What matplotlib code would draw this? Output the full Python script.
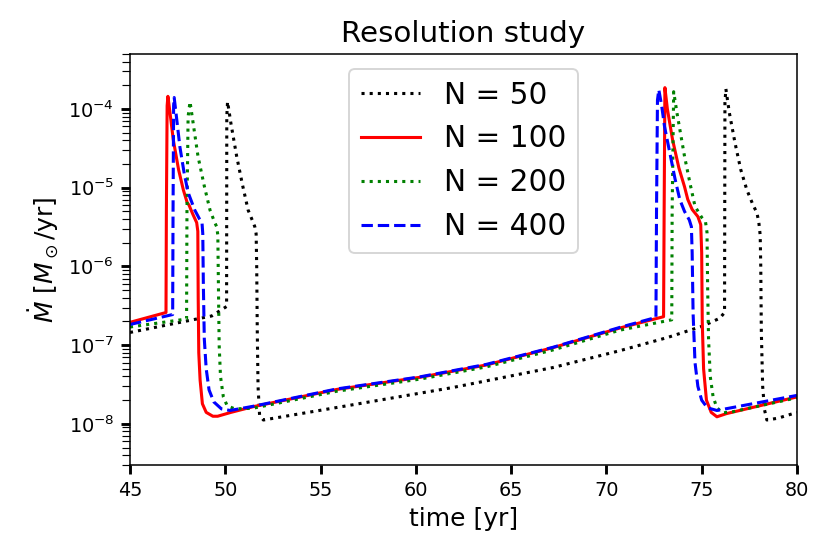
import numpy as np
import matplotlib
matplotlib.use('Agg')
import matplotlib.pyplot as plt

# accretion rate (Msun/yr)
t_50 = [45.0, 49.29, 50.07, 50.08, 50.12, 50.3, 50.6, 50.9, 51.2, 51.45, 51.55,
        51.62, 51.65, 51.68, 51.72, 51.8, 52.0, 56.7, 61.95, 67.2, 70.7, 73.2,
        75.06, 75.95, 76.2, 76.22, 76.27, 76.45, 76.75, 77.05, 77.37, 77.7, 77.9,
        78.0, 78.07, 78.1, 78.13, 78.2, 78.3, 78.42, 79.0, 80.0]
mdot_50 = [1.45e-7, 2.35e-7, 3.1e-7, 8e-5, 1.24e-4, 6.5e-5, 2.5e-5, 1.1e-5, 5.2e-6,
           3.7e-6, 3.2e-6, 2.6e-6, 1.0e-6, 1.5e-7, 3e-8, 1.3e-8, 1.12e-8, 1.75e-8,
           2.9e-8, 5.2e-8, 8.5e-8, 1.25e-7, 1.75e-7, 2.2e-7, 2.6e-7, 1.2e-4,
           1.8e-4, 9e-5, 3.7e-5, 1.7e-5, 9.4e-6, 6e-6, 4.8e-6, 3.6e-6, 2.5e-6,
           1e-6, 1.5e-7, 3e-8, 1.5e-8, 1.12e-8, 1.18e-8, 1.4e-8]

t_100 = [45.0, 46.89, 46.91, 46.95, 46.99, 47.1, 47.27, 47.55, 47.8, 48.0, 48.1,
         48.3, 48.5, 48.56, 48.58, 48.61, 48.68, 48.8, 49.0, 49.35, 49.6, 50.3,
         51.45, 55.86, 60.2, 63.7, 67.2, 70.7, 73.0, 73.03, 73.07, 73.2, 73.47,
         73.8, 74.1, 74.27, 74.5, 74.8, 74.95, 75.0, 75.03, 75.1, 75.25, 75.5,
         75.8, 76.3, 80.0]
mdot_100 = [1.95e-7, 2.6e-7, 5e-6, 1.1e-4, 1.45e-4, 9e-5, 4.1e-5, 1.7e-5, 9.4e-6,
            6.5e-6, 6.0e-6, 4.6e-6, 3.6e-6, 2.8e-6, 4e-7, 8e-8, 3.6e-8, 1.8e-8,
            1.4e-8, 1.25e-8, 1.25e-8, 1.4e-8, 1.65e-8, 2.74e-8, 3.9e-8, 5.6e-8,
            9.3e-8, 1.65e-7, 2.3e-7, 5e-6, 1.87e-4, 1.0e-4, 4.1e-5, 1.8e-5,
            1.03e-5, 7.1e-6, 5.3e-6, 4.3e-6, 3.4e-6, 1.5e-6, 2e-7, 5e-8, 2e-8,
            1.4e-8, 1.23e-8, 1.35e-8, 2.2e-8]

t_200 = [45.0, 47.97, 47.99, 48.05, 48.15, 48.3, 48.57, 48.9, 49.2, 49.45, 49.55,
         49.61, 49.64, 49.68, 49.75, 49.9, 50.1, 50.5, 51.45, 55.86, 60.2, 63.7,
         67.2, 70.7, 73.43, 73.45, 73.53, 73.7, 74.1, 74.4, 74.65, 75.0, 75.2,
         75.28, 75.31, 75.36, 75.45, 75.6, 75.8, 76.1, 76.6, 80.0]
mdot_200 = [1.7e-7, 2.15e-7, 5e-6, 8e-5, 1.24e-4, 7e-5, 2.5e-5, 1.05e-5, 5.2e-6,
            3.6e-6, 3.2e-6, 2.5e-6, 6e-7, 1e-7, 4e-8, 2.2e-8, 1.7e-8, 1.55e-8,
            1.58e-8, 2.6e-8, 3.7e-8, 5.3e-8, 8.7e-8, 1.55e-7, 2.1e-7, 5e-6,
            1.66e-4, 9e-5, 2.5e-5, 1.1e-5, 5.8e-6, 4.2e-6, 3.7e-6, 2.7e-6,
            6e-7, 1.2e-7, 4e-8, 2.2e-8, 1.6e-8, 1.38e-8, 1.42e-8, 2.15e-8]

t_400 = [45.0, 47.24, 47.26, 47.29, 47.32, 47.45, 47.62, 47.85, 48.05, 48.4, 48.65,
         48.78, 48.82, 48.85, 48.9, 49.0, 49.15, 49.4, 49.8, 50.25, 51.45, 55.86,
         60.2, 63.7, 67.2, 70.7, 72.6, 72.63, 72.68, 72.75, 72.9, 73.05, 73.3,
         73.6, 73.85, 74.1, 74.35, 74.46, 74.5, 74.55, 74.65, 74.8, 75.0, 75.3,
         75.8, 80.0]
mdot_400 = [1.83e-7, 2.45e-7, 5e-6, 1.1e-4, 1.4e-4, 7.5e-5, 3.3e-5, 1.5e-5, 8.7e-6,
            5.2e-6, 4.0e-6, 3.6e-6, 2.6e-6, 6e-7, 1.2e-7, 5e-8, 2.7e-8, 1.9e-8,
            1.55e-8, 1.48e-8, 1.67e-8, 2.78e-8, 3.95e-8, 5.7e-8, 9.4e-8, 1.68e-7,
            2.25e-7, 5e-6, 1.3e-4, 1.76e-4, 1.1e-4, 6e-5, 3.0e-5, 1.3e-5, 7.1e-6,
            5e-6, 3.9e-6, 3.2e-6, 1.5e-6, 2.5e-7, 6e-8, 3e-8, 2e-8, 1.6e-8,
            1.48e-8, 2.3e-8]

labels = ['N = 50', 'N = 100', 'N = 200', 'N = 400']

fig = plt.figure(figsize=(830/138.4, 554/138.4), dpi=138.4)
ax = fig.add_axes([0.1566, 0.1606, 0.8036, 0.7419])

ax.plot(t_50, mdot_50, color='k', ls=':', lw=1.6, label=labels[0])
ax.plot(t_100, mdot_100, color='r', ls='-', lw=1.6, label=labels[1])
ax.plot(t_200, mdot_200, color='g', ls=':', lw=1.6, label=labels[2])
ax.plot(t_400, mdot_400, color='b', ls='--', lw=1.6, label=labels[3])

ax.set_yscale('log')
ax.set_xlim(45, 80)
ax.set_ylim(3e-9, 5e-4)
ax.set_title('Resolution study', fontsize=15.3)
ax.set_xlabel('time [yr]', fontsize=13)
ax.set_ylabel(r'$\dot{M}$ [$M_\odot$/yr]', fontsize=13)
ax.tick_params(which='major', length=4.7, width=1.5, labelsize=10)
ax.tick_params(which='minor', length=4.2, width=0.6)
ax.legend(loc='upper center', fontsize=15.4)

fig.savefig('out.png', dpi=138.4)
